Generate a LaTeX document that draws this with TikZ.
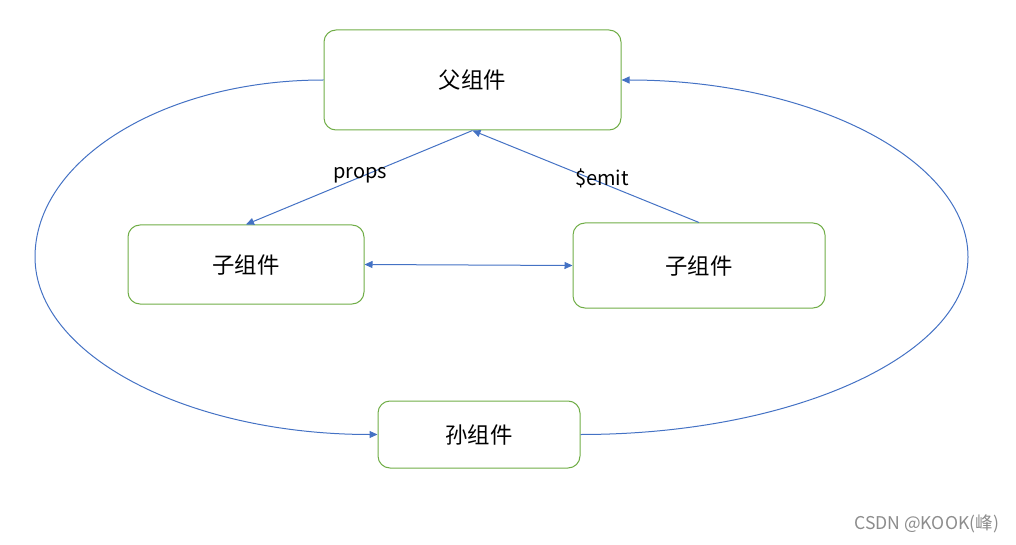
\documentclass[tikz,border=0pt]{standalone}
\usepackage{fontspec}
\setmainfont{Noto Sans CJK SC}
\usetikzlibrary{arrows.meta}
\definecolor{boxgreen}{HTML}{70AD47}
\definecolor{linkblue}{HTML}{4472C4}

\begin{document}
\begin{tikzpicture}[x=0.5pt, y=-0.5pt,
        comp/.style={draw=boxgreen, line width=0.5pt, rounded corners=6pt,
            font=\fontsize{11.2}{13}\selectfont},
        link/.style={draw=linkblue, line width=0.5pt,
            -{Triangle[length=4pt,width=3.5pt]}},
        tag/.style={font=\fontsize{10}{12}\selectfont}]

        \useasboundingbox (0,0) rectangle (1016,545);

        % Parent
        \node [comp,
            minimum width=148.5pt,
            minimum height=50pt] (parent) at (472.5,80) {父组件};

        % Children
        \node [comp,
            minimum width=118pt,
            minimum height=39.5pt] (childL) at (246,264.5) {子组件};

        \node [comp,
            minimum width=126pt,
            minimum height=42.5pt] (childR) at (699,265.5) {子组件};

        % Grandchild
        \node [comp,
            minimum width=101pt,
            minimum height=33.5pt] (grand) at (479,434.5) {孙组件};

        % Links
        \draw [link] (parent.south) -- (childL.north);
        \draw [link] (childR.north) -- (parent.south);
        \draw [link, {Triangle[length=4pt,width=3.5pt]}-{Triangle[length=4pt,width=3.5pt]}]
            (childL.east) -- (childR.west);

        % Around the outside
        \coordinate (farL) at (35,257);
        \coordinate (farR) at (968,257);
        \draw [link] (parent.west) .. controls +(-160,0) and +(0,-97) .. (farL)
            .. controls +(0,98) and +(-190,0) .. (grand.west);
        \draw [link] (grand.east) .. controls +(213,0) and +(0,98) .. (farR)
            .. controls +(0,-97) and +(191,0) .. (parent.east);

        % Link labels
        \node [tag] (lblprops) at (360,175) {props};
        \node [tag] (lblemit) at (602,178) {\$emit};

        % Watermark
        \node [font=\fontsize{8.8}{10}\selectfont, text=black!45,
            anchor=east] (mark) at (1006,524) {CSDN @KOOK(峰)};

\end{tikzpicture}
\end{document}
